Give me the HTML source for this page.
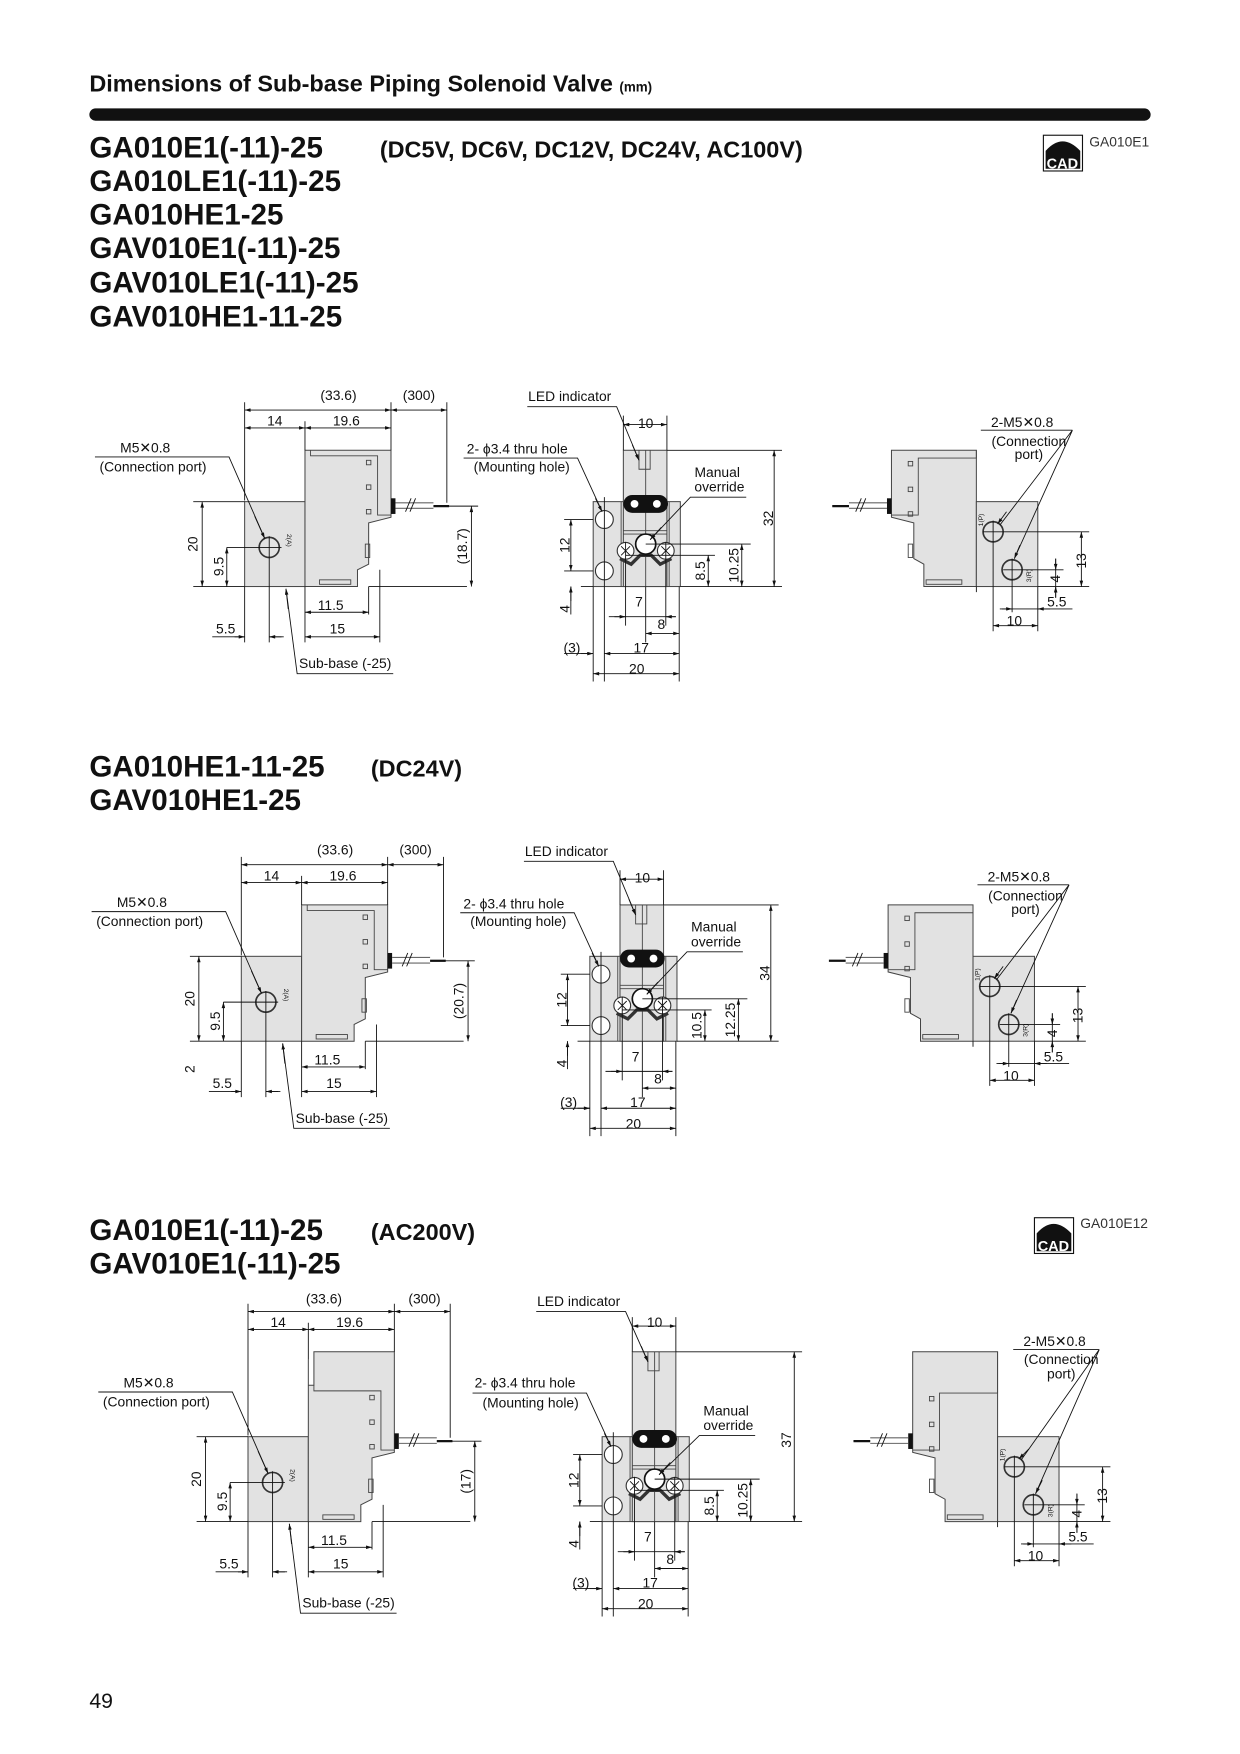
<!DOCTYPE html>
<html><head><meta charset="utf-8"><style>
html,body{margin:0;padding:0;background:#fff}
svg{display:block}
text{font-family:"Liberation Sans",Arial,sans-serif;fill:#111}
.s{font-size:12.4px}
.h{font-size:26.5px;font-weight:bold}
.v{font-size:21px;font-weight:bold}
.d{stroke:#111;stroke-width:0.8;fill:none}
.da{stroke:#111;stroke-width:0.8;fill:none;marker-start:url(#a);marker-end:url(#a)}
.b{fill:#e2e2e2;stroke:#444;stroke-width:0.9}
.l{stroke:#444;stroke-width:0.8;fill:none}
</style></head><body>
<svg width="1240" height="1754" viewBox="0 0 1110 1570" xmlns="http://www.w3.org/2000/svg">
<defs>
<marker id="a" viewBox="0 0 10 6" refX="10" refY="3" markerWidth="8" markerHeight="4" orient="auto-start-reverse"><path d="M0,0L10,3L0,6z" fill="#111"/></marker>
</defs>
<text x="80" y="82" style="font-size:21px;font-weight:bold">Dimensions of Sub-base Piping Solenoid Valve <tspan style="font-size:12px">(mm)</tspan></text>
<rect x="80" y="97" width="950" height="11" rx="5.5" fill="#111"/>

<!-- headings -->
<text class="h" x="80" y="141">GA010E1(-11)-25</text>
<text class="h" x="80" y="171">GA010LE1(-11)-25</text>
<text class="h" x="80" y="201">GA010HE1-25</text>
<text class="h" x="80" y="231">GAV010E1(-11)-25</text>
<text class="h" x="80" y="262">GAV010LE1(-11)-25</text>
<text class="h" x="80" y="292">GAV010HE1-11-25</text>
<text class="v" x="340" y="141">(DC5V, DC6V, DC12V, DC24V, AC100V)</text>
<g><rect x="934" y="121" width="35" height="32" fill="#fff" stroke="#111"/><path d="M936,151 L936,135 Q951,118 967,135 L967,151z" fill="#111"/><text x="951" y="151" text-anchor="middle" style="font-size:13px;font-weight:bold;fill:#fff">CAD</text><text x="975" y="131" class="s" style="fill:#333">GA010E1</text></g>

<text class="h" x="80" y="695">GA010HE1-11-25</text>
<text class="h" x="80" y="725">GAV010HE1-25</text>
<text class="v" x="332" y="695">(DC24V)</text>

<text class="h" x="80" y="1110">GA010E1(-11)-25</text>
<text class="h" x="80" y="1140">GAV010E1(-11)-25</text>
<text class="v" x="332" y="1110">(AC200V)</text>
<g><rect x="926" y="1090" width="35" height="32" fill="#fff" stroke="#111"/><path d="M928,1120 L928,1104 Q943,1087 959,1104 L959,1120z" fill="#111"/><text x="943" y="1120" text-anchor="middle" style="font-size:13px;font-weight:bold;fill:#fff">CAD</text><text x="967" y="1099" class="s" style="fill:#333">GA010E12</text></g>

<text x="80" y="1529" style="font-size:19px">49</text>

<!-- ============ LEFT VIEW template (3 copies) ============ -->
<g transform="translate(0,0)">
<rect class="b" x="219" y="449" width="54" height="76"/>
<path class="b" d="M273,403 L350,403 L350,463 L330,468 L330,505 L320,510 L320,525 L273,525z"/>
<path class="l" d="M278,403 L278,408 L338,408 L338,461 L350,461"/>
<rect class="l" x="286" y="519" width="28" height="4"/><rect class="l" x="327" y="487" width="4" height="12"/>
<rect class="l" x="328" y="412" width="4" height="4"/><rect class="l" x="328" y="434" width="4" height="4"/><rect class="l" x="328" y="456" width="4" height="4"/>
<rect x="350" y="446" width="4" height="14" fill="#111"/>
<path d="M354,450 L388,450 M354,455 L388,455" stroke="#666" stroke-width="1"/><path d="M388,453 L402,453" stroke="#111" stroke-width="2"/>
<path class="d" d="M363,458 L368,446 M367,458 L372,446"/>
<circle cx="241" cy="490" r="9" fill="none" stroke="#333" stroke-width="1.5"/>
<path class="d" d="M241,480 L241,575 M203,490 L252,490"/>
<text class="s" x="257" y="478" transform="rotate(90 257 478)" style="font-size:6px">2(A)</text>
<path class="d" d="M219,360 L219,448 M350,360 L350,403 M400,360 L400,450 M273,377 L273,403 M173,449 L219,449 M173,525 L219,525 M330,525 L418,525 M400,453 L428,453 M273,525 L273,575 M330,525 L330,550 M340,510 L340,575 M219,525 L219,575"/>
<path class="da" d="M219,367 L350,367"/><path class="da" d="M350,367 L400,367"/>
<path class="da" d="M219,383 L273,383"/><path class="da" d="M273,383 L350,383"/>
<path class="da" d="M181,449 L181,525"/><path class="da" d="M203,490 L203,525"/>
<path class="da" d="M422,453 L422,525"/>
<path class="da" d="M273,548 L330,548"/><path class="da" d="M273,570 L340,570"/>
<path class="d" d="M190,570 L219,570 M241,570 L254,570"/><path class="da" d="M210,570 L219,570" style="marker-start:none"/><path class="da" d="M252,570 L241,570" style="marker-start:none"/>
<text class="s" x="303" y="358" text-anchor="middle">(33.6)</text><text class="s" x="375" y="358" text-anchor="middle">(300)</text>
<text class="s" x="246" y="381" text-anchor="middle">14</text><text class="s" x="310" y="381" text-anchor="middle">19.6</text>
<text class="s" transform="translate(177,487) rotate(-90)" text-anchor="middle">20</text>
<text class="s" transform="translate(200,507) rotate(-90)" text-anchor="middle">9.5</text>
<text class="s" transform="translate(418,489) rotate(-90)" text-anchor="middle">(18.7)</text>
<text class="s" x="296" y="546" text-anchor="middle">11.5</text><text class="s" x="302" y="567" text-anchor="middle">15</text>
<text class="s" x="202" y="567" text-anchor="middle">5.5</text>
<text class="s" x="130" y="405" text-anchor="middle">M5✕0.8</text><text class="s" x="137" y="422" text-anchor="middle">(Connection port)</text>
<path class="d" d="M85,409 L205,409 L237,482"/><path class="da" d="M228,462 L237,482" style="marker-start:none"/>
<text class="s" x="309" y="598" text-anchor="middle">Sub-base (-25)</text>
<path class="d" d="M352,603 L266,603 L256,527"/><path class="da" d="M258,545 L256,527" style="marker-start:none"/>
</g>

<g transform="translate(-3,407)">
<rect class="b" x="219" y="449" width="54" height="76"/>
<path class="b" d="M273,403 L350,403 L350,463 L330,468 L330,505 L320,510 L320,525 L273,525z"/>
<path class="l" d="M278,403 L278,408 L338,408 L338,461 L350,461"/>
<rect class="l" x="286" y="519" width="28" height="4"/><rect class="l" x="327" y="487" width="4" height="12"/>
<rect class="l" x="328" y="412" width="4" height="4"/><rect class="l" x="328" y="434" width="4" height="4"/><rect class="l" x="328" y="456" width="4" height="4"/>
<rect x="350" y="446" width="4" height="14" fill="#111"/>
<path d="M354,450 L388,450 M354,455 L388,455" stroke="#666" stroke-width="1"/><path d="M388,453 L402,453" stroke="#111" stroke-width="2"/>
<path class="d" d="M363,458 L368,446 M367,458 L372,446"/>
<circle cx="241" cy="490" r="9" fill="none" stroke="#333" stroke-width="1.5"/>
<path class="d" d="M241,480 L241,575 M203,490 L252,490"/>
<text class="s" x="257" y="478" transform="rotate(90 257 478)" style="font-size:6px">2(A)</text>
<path class="d" d="M219,360 L219,448 M350,360 L350,403 M400,360 L400,450 M273,377 L273,403 M173,449 L219,449 M173,525 L219,525 M330,525 L418,525 M400,453 L428,453 M273,525 L273,575 M330,525 L330,550 M340,510 L340,575 M219,525 L219,575"/>
<path class="da" d="M219,367 L350,367"/><path class="da" d="M350,367 L400,367"/>
<path class="da" d="M219,383 L273,383"/><path class="da" d="M273,383 L350,383"/>
<path class="da" d="M181,449 L181,525"/><path class="da" d="M203,490 L203,525"/>
<path class="da" d="M422,453 L422,525"/>
<path class="da" d="M273,548 L330,548"/><path class="da" d="M273,570 L340,570"/>
<path class="d" d="M190,570 L219,570 M241,570 L254,570"/><path class="da" d="M210,570 L219,570" style="marker-start:none"/><path class="da" d="M252,570 L241,570" style="marker-start:none"/>
<text class="s" x="303" y="358" text-anchor="middle">(33.6)</text><text class="s" x="375" y="358" text-anchor="middle">(300)</text>
<text class="s" x="246" y="381" text-anchor="middle">14</text><text class="s" x="310" y="381" text-anchor="middle">19.6</text>
<text class="s" transform="translate(177,487) rotate(-90)" text-anchor="middle">20</text>
<text class="s" transform="translate(200,507) rotate(-90)" text-anchor="middle">9.5</text>
<text class="s" transform="translate(177,550) rotate(-90)" text-anchor="middle">2</text>
<text class="s" transform="translate(418,489) rotate(-90)" text-anchor="middle">(20.7)</text>
<text class="s" x="296" y="546" text-anchor="middle">11.5</text><text class="s" x="302" y="567" text-anchor="middle">15</text>
<text class="s" x="202" y="567" text-anchor="middle">5.5</text>
<text class="s" x="130" y="405" text-anchor="middle">M5✕0.8</text><text class="s" x="137" y="422" text-anchor="middle">(Connection port)</text>
<path class="d" d="M85,409 L205,409 L237,482"/><path class="da" d="M228,462 L237,482" style="marker-start:none"/>
<text class="s" x="309" y="598" text-anchor="middle">Sub-base (-25)</text>
<path class="d" d="M352,603 L266,603 L256,527"/><path class="da" d="M258,545 L256,527" style="marker-start:none"/>
</g>

<g transform="translate(3,837)">
<rect class="b" x="219" y="449" width="54" height="76"/>
<path class="b" d="M273,380 L273,403 L278,403 L278,373 L350,373 L350,463 L330,468 L330,505 L320,510 L320,525 L273,525z"/>
<path class="l" d="M278,403 L278,408 L338,408 L338,461 L350,461"/>
<rect class="l" x="286" y="519" width="28" height="4"/><rect class="l" x="327" y="487" width="4" height="12"/>
<rect class="l" x="328" y="412" width="4" height="4"/><rect class="l" x="328" y="434" width="4" height="4"/><rect class="l" x="328" y="456" width="4" height="4"/>
<rect x="350" y="446" width="4" height="14" fill="#111"/>
<path d="M354,450 L388,450 M354,455 L388,455" stroke="#666" stroke-width="1"/><path d="M388,453 L402,453" stroke="#111" stroke-width="2"/>
<path class="d" d="M363,458 L368,446 M367,458 L372,446"/>
<circle cx="241" cy="490" r="9" fill="none" stroke="#333" stroke-width="1.5"/>
<path class="d" d="M241,480 L241,575 M203,490 L252,490"/>
<text class="s" x="257" y="478" transform="rotate(90 257 478)" style="font-size:6px">2(A)</text>
<path class="d" d="M219,330 L219,448 M350,330 L350,373 M400,330 L400,450 M273,347 L273,380 M173,449 L219,449 M173,525 L219,525 M330,525 L418,525 M400,453 L428,453 M273,525 L273,575 M330,525 L330,550 M340,510 L340,575 M219,525 L219,575"/>
<path class="da" d="M219,337 L350,337"/><path class="da" d="M350,337 L400,337"/>
<path class="da" d="M219,353 L273,353"/><path class="da" d="M273,353 L350,353"/>
<path class="da" d="M181,449 L181,525"/><path class="da" d="M203,490 L203,525"/>
<path class="da" d="M422,453 L422,525"/>
<path class="da" d="M273,548 L330,548"/><path class="da" d="M273,570 L340,570"/>
<path class="d" d="M190,570 L219,570 M241,570 L254,570"/><path class="da" d="M210,570 L219,570" style="marker-start:none"/><path class="da" d="M252,570 L241,570" style="marker-start:none"/>
<text class="s" x="287" y="330" text-anchor="middle">(33.6)</text><text class="s" x="377" y="330" text-anchor="middle">(300)</text>
<text class="s" x="246" y="351" text-anchor="middle">14</text><text class="s" x="310" y="351" text-anchor="middle">19.6</text>
<text class="s" transform="translate(177,487) rotate(-90)" text-anchor="middle">20</text>
<text class="s" transform="translate(200,507) rotate(-90)" text-anchor="middle">9.5</text>
<text class="s" transform="translate(418,489) rotate(-90)" text-anchor="middle">(17)</text>
<text class="s" x="296" y="546" text-anchor="middle">11.5</text><text class="s" x="302" y="567" text-anchor="middle">15</text>
<text class="s" x="202" y="567" text-anchor="middle">5.5</text>
<text class="s" x="130" y="405" text-anchor="middle">M5✕0.8</text><text class="s" x="137" y="422" text-anchor="middle">(Connection port)</text>
<path class="d" d="M85,409 L205,409 L237,482"/><path class="da" d="M228,462 L237,482" style="marker-start:none"/>
<text class="s" x="309" y="602" text-anchor="middle">Sub-base (-25)</text>
<path class="d" d="M352,607 L266,607 L256,527"/><path class="da" d="M258,545 L256,527" style="marker-start:none"/>
</g>

<!-- ============ MIDDLE VIEW ============ -->
<g transform="translate(0,0)">
<rect class="b" x="531" y="449" width="78" height="76"/>
<rect class="b" x="558" y="403" width="39" height="122"/>
<path class="l" d="M578,403 L578,525 M572,403 L572,420 L582,420 L582,403 M558,475 L597,475 M558,478 L597,478 M556,449 L556,525 M599,449 L599,525"/>
<rect x="558" y="443" width="40" height="16" rx="8" fill="#111"/><circle cx="568" cy="451" r="3.5" fill="#fff"/><circle cx="588" cy="451" r="3.5" fill="#fff"/>
<path d="M555,500 L565,505 L573,497 L583,497 L591,505 L601,500" stroke="#333" stroke-width="3" fill="none"/>
<circle cx="541" cy="465" r="8" fill="#fff" stroke="#333"/><circle cx="541" cy="511" r="8" fill="#fff" stroke="#333"/>
<circle cx="578" cy="487" r="9" fill="#fff" stroke="#111" stroke-width="1.5"/>
<circle cx="560" cy="493" r="7.5" fill="#fff" stroke="#333"/><circle cx="596" cy="493" r="7.5" fill="#fff" stroke="#333"/>
<path class="d" d="M556,489 L564,497 M564,489 L556,497 M592,489 L600,497 M600,489 L592,497"/>
<path class="d" d="M541,445 L541,610 M560,485 L560,560 M596,485 L596,560 M578,525 L578,575 M531,525 L531,610 M608,525 L608,610 M597,403 L700,403 M609,525 L700,525 M505,465 L531,465 M505,511 L531,511 M520,525 L531,525 M578,487 L672,487 M560,497 L640,497 M558,372 L558,403 M597,372 L597,403"/>
<path class="da" d="M558,380 L597,380"/><path class="da" d="M693,403 L693,525"/>
<path class="da" d="M511,465 L511,511"/><path class="d" d="M511,525 L511,550"/><path class="da" d="M511,538 L511,525" style="marker-start:none"/>
<path class="da" d="M634,497 L634,525"/><path class="da" d="M664,487 L664,525"/>
<path class="d" d="M545,552 L605,552"/><path class="da" d="M550,552 L560,552" style="marker-start:none"/><path class="da" d="M605,552 L596,552" style="marker-start:none"/>
<path class="da" d="M578,567 L608,567"/><path class="da" d="M541,585 L608,585"/><path class="da" d="M531,603 L608,603"/>
<path class="d" d="M505,585 L531,585"/><path class="da" d="M520,585 L531,585" style="marker-start:none"/>
<text class="s" x="578" y="383" text-anchor="middle">10</text>
<text class="s" x="510" y="359" text-anchor="middle">LED indicator</text><path class="d" d="M472,364 L552,364 L572,412"/><path class="da" d="M566,398 L572,412" style="marker-start:none"/>
<text class="s" x="463" y="406" text-anchor="middle">2- ϕ3.4 thru hole</text><text class="s" x="467" y="422" text-anchor="middle">(Mounting hole)</text>
<path class="d" d="M415,410 L517,410 L539,458"/><path class="da" d="M533,446 L539,458" style="marker-start:none"/>
<text class="s" x="642" y="427" text-anchor="middle">Manual</text><text class="s" x="644" y="440" text-anchor="middle">override</text>
<path class="d" d="M668,445 L618,445 L582,483"/><path class="da" d="M592,472 L582,483" style="marker-start:none"/>
<text class="s" transform="translate(692,464) rotate(-90)" text-anchor="middle">32</text>
<text class="s" transform="translate(510,488) rotate(-90)" text-anchor="middle">12</text>
<text class="s" transform="translate(510,545) rotate(-90)" text-anchor="middle">4</text>
<text class="s" transform="translate(631,511) rotate(-90)" text-anchor="middle">8.5</text>
<text class="s" transform="translate(661,506) rotate(-90)" text-anchor="middle">10.25</text>
<text class="s" x="572" y="543" text-anchor="middle">7</text><text class="s" x="592" y="563" text-anchor="middle">8</text>
<text class="s" x="574" y="584" text-anchor="middle">17</text><text class="s" x="570" y="603" text-anchor="middle">20</text><text class="s" x="512" y="584" text-anchor="middle">(3)</text>
</g>

<g transform="translate(-3,407)">
<rect class="b" x="531" y="449" width="78" height="76"/>
<rect class="b" x="558" y="403" width="39" height="122"/>
<path class="l" d="M578,403 L578,525 M572,403 L572,420 L582,420 L582,403 M558,475 L597,475 M558,478 L597,478 M556,449 L556,525 M599,449 L599,525"/>
<rect x="558" y="443" width="40" height="16" rx="8" fill="#111"/><circle cx="568" cy="451" r="3.5" fill="#fff"/><circle cx="588" cy="451" r="3.5" fill="#fff"/>
<path d="M555,500 L565,505 L573,497 L583,497 L591,505 L601,500" stroke="#333" stroke-width="3" fill="none"/>
<circle cx="541" cy="465" r="8" fill="#fff" stroke="#333"/><circle cx="541" cy="511" r="8" fill="#fff" stroke="#333"/>
<circle cx="578" cy="487" r="9" fill="#fff" stroke="#111" stroke-width="1.5"/>
<circle cx="560" cy="493" r="7.5" fill="#fff" stroke="#333"/><circle cx="596" cy="493" r="7.5" fill="#fff" stroke="#333"/>
<path class="d" d="M556,489 L564,497 M564,489 L556,497 M592,489 L600,497 M600,489 L592,497"/>
<path class="d" d="M541,445 L541,610 M560,485 L560,560 M596,485 L596,560 M578,525 L578,575 M531,525 L531,610 M608,525 L608,610 M597,403 L700,403 M609,525 L700,525 M505,465 L531,465 M505,511 L531,511 M520,525 L531,525 M578,487 L672,487 M560,497 L640,497 M558,372 L558,403 M597,372 L597,403"/>
<path class="da" d="M558,380 L597,380"/><path class="da" d="M693,403 L693,525"/>
<path class="da" d="M511,465 L511,511"/><path class="d" d="M511,525 L511,550"/><path class="da" d="M511,538 L511,525" style="marker-start:none"/>
<path class="da" d="M634,497 L634,525"/><path class="da" d="M664,487 L664,525"/>
<path class="d" d="M545,552 L605,552"/><path class="da" d="M550,552 L560,552" style="marker-start:none"/><path class="da" d="M605,552 L596,552" style="marker-start:none"/>
<path class="da" d="M578,567 L608,567"/><path class="da" d="M541,585 L608,585"/><path class="da" d="M531,603 L608,603"/>
<path class="d" d="M505,585 L531,585"/><path class="da" d="M520,585 L531,585" style="marker-start:none"/>
<text class="s" x="578" y="383" text-anchor="middle">10</text>
<text class="s" x="510" y="359" text-anchor="middle">LED indicator</text><path class="d" d="M472,364 L552,364 L572,412"/><path class="da" d="M566,398 L572,412" style="marker-start:none"/>
<text class="s" x="463" y="406" text-anchor="middle">2- ϕ3.4 thru hole</text><text class="s" x="467" y="422" text-anchor="middle">(Mounting hole)</text>
<path class="d" d="M415,410 L517,410 L539,458"/><path class="da" d="M533,446 L539,458" style="marker-start:none"/>
<text class="s" x="642" y="427" text-anchor="middle">Manual</text><text class="s" x="644" y="440" text-anchor="middle">override</text>
<path class="d" d="M668,445 L618,445 L582,483"/><path class="da" d="M592,472 L582,483" style="marker-start:none"/>
<text class="s" transform="translate(692,464) rotate(-90)" text-anchor="middle">34</text>
<text class="s" transform="translate(510,488) rotate(-90)" text-anchor="middle">12</text>
<text class="s" transform="translate(510,545) rotate(-90)" text-anchor="middle">4</text>
<text class="s" transform="translate(631,511) rotate(-90)" text-anchor="middle">10.5</text>
<text class="s" transform="translate(661,506) rotate(-90)" text-anchor="middle">12.25</text>
<text class="s" x="572" y="543" text-anchor="middle">7</text><text class="s" x="592" y="563" text-anchor="middle">8</text>
<text class="s" x="574" y="584" text-anchor="middle">17</text><text class="s" x="570" y="603" text-anchor="middle">20</text><text class="s" x="512" y="584" text-anchor="middle">(3)</text>
</g>

<g transform="translate(8,837)">
<rect class="b" x="531" y="449" width="78" height="76"/>
<rect class="b" x="558" y="373" width="39" height="152"/>
<path class="l" d="M578,373 L578,525 M572,373 L572,390 L582,390 L582,373 M558,475 L597,475 M558,478 L597,478 M556,449 L556,525 M599,449 L599,525"/>
<rect x="558" y="443" width="40" height="16" rx="8" fill="#111"/><circle cx="568" cy="451" r="3.5" fill="#fff"/><circle cx="588" cy="451" r="3.5" fill="#fff"/>
<path d="M555,500 L565,505 L573,497 L583,497 L591,505 L601,500" stroke="#333" stroke-width="3" fill="none"/>
<circle cx="541" cy="465" r="8" fill="#fff" stroke="#333"/><circle cx="541" cy="511" r="8" fill="#fff" stroke="#333"/>
<circle cx="578" cy="487" r="9" fill="#fff" stroke="#111" stroke-width="1.5"/>
<circle cx="560" cy="493" r="7.5" fill="#fff" stroke="#333"/><circle cx="596" cy="493" r="7.5" fill="#fff" stroke="#333"/>
<path class="d" d="M556,489 L564,497 M564,489 L556,497 M592,489 L600,497 M600,489 L592,497"/>
<path class="d" d="M541,445 L541,610 M560,485 L560,560 M596,485 L596,560 M578,525 L578,575 M531,525 L531,610 M608,525 L608,610 M597,373 L710,373 M609,525 L710,525 M505,465 L531,465 M505,511 L531,511 M520,525 L531,525 M578,487 L672,487 M560,497 L640,497 M558,342 L558,373 M597,342 L597,373"/>
<path class="da" d="M558,350 L597,350"/><path class="da" d="M703,373 L703,525"/>
<path class="da" d="M511,465 L511,511"/><path class="d" d="M511,525 L511,550"/><path class="da" d="M511,538 L511,525" style="marker-start:none"/>
<path class="da" d="M634,497 L634,525"/><path class="da" d="M664,487 L664,525"/>
<path class="d" d="M545,552 L605,552"/><path class="da" d="M550,552 L560,552" style="marker-start:none"/><path class="da" d="M605,552 L596,552" style="marker-start:none"/>
<path class="da" d="M578,567 L608,567"/><path class="da" d="M541,585 L608,585"/><path class="da" d="M531,603 L608,603"/>
<path class="d" d="M505,585 L531,585"/><path class="da" d="M520,585 L531,585" style="marker-start:none"/>
<text class="s" x="578" y="351" text-anchor="middle">10</text>
<text class="s" x="510" y="332" text-anchor="middle">LED indicator</text><path class="d" d="M472,337 L552,337 L572,382"/><path class="da" d="M566,368 L572,382" style="marker-start:none"/>
<text class="s" x="462" y="405" text-anchor="middle">2- ϕ3.4 thru hole</text><text class="s" x="467" y="423" text-anchor="middle">(Mounting hole)</text>
<path class="d" d="M415,410 L517,410 L539,458"/><path class="da" d="M533,446 L539,458" style="marker-start:none"/>
<text class="s" x="642" y="430" text-anchor="middle">Manual</text><text class="s" x="644" y="443" text-anchor="middle">override</text>
<path class="d" d="M668,448 L618,448 L582,483"/><path class="da" d="M592,472 L582,483" style="marker-start:none"/>
<text class="s" transform="translate(700,452) rotate(-90)" text-anchor="middle">37</text>
<text class="s" transform="translate(510,488) rotate(-90)" text-anchor="middle">12</text>
<text class="s" transform="translate(510,545) rotate(-90)" text-anchor="middle">4</text>
<text class="s" transform="translate(631,511) rotate(-90)" text-anchor="middle">8.5</text>
<text class="s" transform="translate(661,506) rotate(-90)" text-anchor="middle">10.25</text>
<text class="s" x="572" y="543" text-anchor="middle">7</text><text class="s" x="592" y="563" text-anchor="middle">8</text>
<text class="s" x="574" y="584" text-anchor="middle">17</text><text class="s" x="570" y="603" text-anchor="middle">20</text><text class="s" x="512" y="584" text-anchor="middle">(3)</text>
</g>

<!-- ============ RIGHT VIEW ============ -->
<g transform="translate(0,0)">
<path class="b" d="M798,403 L874,403 L874,525 L827,525 L827,505 L818,500 L818,468 L798,463z"/>
<rect class="b" x="874" y="449" width="55" height="76"/>
<path class="l" d="M874,403 L874,410 L822,410 L822,461 L798,461"/>
<rect class="l" x="829" y="519" width="32" height="4"/><rect class="l" x="813" y="487" width="4" height="12"/>
<rect class="l" x="813" y="413" width="4" height="4"/><rect class="l" x="813" y="436" width="4" height="4"/><rect class="l" x="813" y="458" width="4" height="4"/>
<rect x="794" y="446" width="4" height="14" fill="#111"/>
<path d="M760,450 L794,450 M760,455 L794,455" stroke="#666" stroke-width="1"/><path d="M745,453 L760,453" stroke="#111" stroke-width="2"/>
<path class="d" d="M766,458 L771,446 M770,458 L775,446"/>
<circle cx="889" cy="476" r="9" fill="none" stroke="#333" stroke-width="1.5"/><circle cx="906" cy="510" r="9" fill="none" stroke="#333" stroke-width="1.5"/>
<path class="d" d="M889,466 L889,565 M880,476 L975,476 M906,500 L906,548 M898,510 L952,510 M929,525 L975,525 M929,525 L929,565 M874,525 L874,530"/>
<path class="da" d="M968,476 L968,525"/><path class="d" d="M945,500 L945,535"/><path class="da" d="M945,500 L945,510" style="marker-start:none"/><path class="da" d="M945,535 L945,525" style="marker-start:none"/>
<path class="d" d="M895,545 L960,545"/><path class="da" d="M897,545 L906,545" style="marker-start:none"/><path class="da" d="M940,545 L929,545" style="marker-start:none"/>
<path class="da" d="M889,560 L929,560"/>
<text class="s" x="875" y="470" style="font-size:6px" transform="rotate(-90 878 468)">1(P)</text>
<text class="s" x="921" y="523" style="font-size:6px" transform="rotate(-90 921 521)">3(R)</text>
<text class="s" transform="translate(972,502) rotate(-90)" text-anchor="middle">13</text>
<text class="s" transform="translate(949,518) rotate(-90)" text-anchor="middle">4</text>
<text class="s" x="946" y="543" text-anchor="middle">5.5</text><text class="s" x="908" y="560" text-anchor="middle">10</text>
<text class="s" x="915" y="382" text-anchor="middle">2-M5✕0.8</text><text class="s" x="921" y="399" text-anchor="middle">(Connection</text><text class="s" x="921" y="411" text-anchor="middle">port)</text>
<path class="d" d="M878,385 L960,385 M960,385 L895,470 M960,385 L908,500"/><path class="da" d="M901,458 L893,469" style="marker-start:none"/><path class="da" d="M913,488 L908,500" style="marker-start:none"/>
</g>

<g transform="translate(-3,407)">
<path class="b" d="M798,403 L874,403 L874,525 L827,525 L827,505 L818,500 L818,468 L798,463z"/>
<rect class="b" x="874" y="449" width="55" height="76"/>
<path class="l" d="M874,403 L874,410 L822,410 L822,461 L798,461"/>
<rect class="l" x="829" y="519" width="32" height="4"/><rect class="l" x="813" y="487" width="4" height="12"/>
<rect class="l" x="813" y="413" width="4" height="4"/><rect class="l" x="813" y="436" width="4" height="4"/><rect class="l" x="813" y="458" width="4" height="4"/>
<rect x="794" y="446" width="4" height="14" fill="#111"/>
<path d="M760,450 L794,450 M760,455 L794,455" stroke="#666" stroke-width="1"/><path d="M745,453 L760,453" stroke="#111" stroke-width="2"/>
<path class="d" d="M766,458 L771,446 M770,458 L775,446"/>
<circle cx="889" cy="476" r="9" fill="none" stroke="#333" stroke-width="1.5"/><circle cx="906" cy="510" r="9" fill="none" stroke="#333" stroke-width="1.5"/>
<path class="d" d="M889,466 L889,565 M880,476 L975,476 M906,500 L906,548 M898,510 L952,510 M929,525 L975,525 M929,525 L929,565 M874,525 L874,530"/>
<path class="da" d="M968,476 L968,525"/><path class="d" d="M945,500 L945,535"/><path class="da" d="M945,500 L945,510" style="marker-start:none"/><path class="da" d="M945,535 L945,525" style="marker-start:none"/>
<path class="d" d="M895,545 L960,545"/><path class="da" d="M897,545 L906,545" style="marker-start:none"/><path class="da" d="M940,545 L929,545" style="marker-start:none"/>
<path class="da" d="M889,560 L929,560"/>
<text class="s" x="875" y="470" style="font-size:6px" transform="rotate(-90 878 468)">1(P)</text>
<text class="s" x="921" y="523" style="font-size:6px" transform="rotate(-90 921 521)">3(R)</text>
<text class="s" transform="translate(972,502) rotate(-90)" text-anchor="middle">13</text>
<text class="s" transform="translate(949,518) rotate(-90)" text-anchor="middle">4</text>
<text class="s" x="946" y="543" text-anchor="middle">5.5</text><text class="s" x="908" y="560" text-anchor="middle">10</text>
<text class="s" x="915" y="382" text-anchor="middle">2-M5✕0.8</text><text class="s" x="921" y="399" text-anchor="middle">(Connection</text><text class="s" x="921" y="411" text-anchor="middle">port)</text>
<path class="d" d="M878,385 L960,385 M960,385 L895,470 M960,385 L908,500"/><path class="da" d="M901,458 L893,469" style="marker-start:none"/><path class="da" d="M913,488 L908,500" style="marker-start:none"/>
</g>

<g transform="translate(19,837)">
<path class="b" d="M798,373 L874,373 L874,525 L827,525 L827,505 L818,500 L818,468 L798,463z"/>
<rect class="b" x="874" y="449" width="55" height="76"/>
<path class="l" d="M874,373 L874,410 L822,410 L822,461 L798,461"/>
<rect class="l" x="829" y="519" width="32" height="4"/><rect class="l" x="813" y="487" width="4" height="12"/>
<rect class="l" x="813" y="413" width="4" height="4"/><rect class="l" x="813" y="436" width="4" height="4"/><rect class="l" x="813" y="458" width="4" height="4"/>
<rect x="794" y="446" width="4" height="14" fill="#111"/>
<path d="M760,450 L794,450 M760,455 L794,455" stroke="#666" stroke-width="1"/><path d="M745,453 L760,453" stroke="#111" stroke-width="2"/>
<path class="d" d="M766,458 L771,446 M770,458 L775,446"/>
<circle cx="889" cy="476" r="9" fill="none" stroke="#333" stroke-width="1.5"/><circle cx="906" cy="510" r="9" fill="none" stroke="#333" stroke-width="1.5"/>
<path class="d" d="M889,466 L889,565 M880,476 L975,476 M906,500 L906,548 M898,510 L952,510 M929,525 L975,525 M929,525 L929,565 M874,525 L874,530"/>
<path class="da" d="M968,476 L968,525"/><path class="d" d="M945,500 L945,535"/><path class="da" d="M945,500 L945,510" style="marker-start:none"/><path class="da" d="M945,535 L945,525" style="marker-start:none"/>
<path class="d" d="M895,545 L960,545"/><path class="da" d="M897,545 L906,545" style="marker-start:none"/><path class="da" d="M940,545 L929,545" style="marker-start:none"/>
<path class="da" d="M889,560 L929,560"/>
<text class="s" x="875" y="470" style="font-size:6px" transform="rotate(-90 878 468)">1(P)</text>
<text class="s" x="921" y="523" style="font-size:6px" transform="rotate(-90 921 521)">3(R)</text>
<text class="s" transform="translate(972,502) rotate(-90)" text-anchor="middle">13</text>
<text class="s" transform="translate(949,518) rotate(-90)" text-anchor="middle">4</text>
<text class="s" x="946" y="543" text-anchor="middle">5.5</text><text class="s" x="908" y="560" text-anchor="middle">10</text>
<text class="s" x="925" y="368" text-anchor="middle">2-M5✕0.8</text><text class="s" x="931" y="384" text-anchor="middle">(Connection</text><text class="s" x="931" y="397" text-anchor="middle">port)</text>
<path class="d" d="M888,371 L965,371 M965,371 L895,470 M965,371 L908,500"/><path class="da" d="M902,460 L893,469" style="marker-start:none"/><path class="da" d="M914,488 L908,500" style="marker-start:none"/>
</g>
</svg>
</body></html>
